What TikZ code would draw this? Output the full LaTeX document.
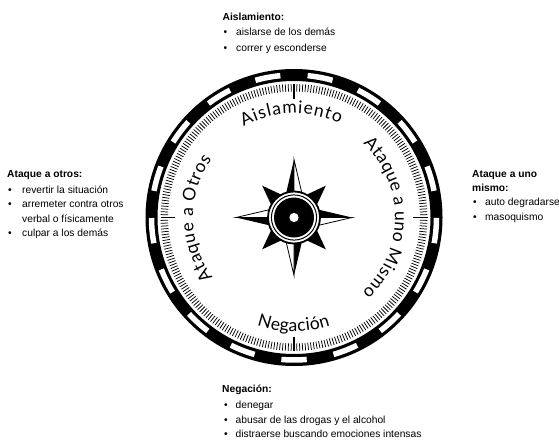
\documentclass[tikz,border=0pt]{standalone}
\usepackage{fontspec}
\setmainfont{Liberation Sans}
\newfontfamily\rosefont{Lato}
\usetikzlibrary{decorations.text}
\tikzset{
  lbl/.style={anchor=base west, inner sep=0pt, font=\fontsize{10.25}{12}\selectfont},
  hd/.style={lbl, font=\fontsize{10.25}{12}\selectfont\bfseries},
  rosetext/.style={decorate, decoration={text along path, text align={fit to path},
     text={|\rosefont\fontsize{17.5}{20}\selectfont|#1}}}
}
\begin{document}
\begin{tikzpicture}[x=1pt,y=1pt]
\useasboundingbox (0,0) rectangle (559,-439);

% ---------- compass ----------
\begin{scope}[shift={(294,-217.5)}]
  % outer band
  \draw[line width=12pt] (0,0) circle (142.5);
  \foreach \i in {0,...,16}{
    \pgfmathsetmacro\sa{95.5+\i*360/17}
    \pgfmathsetmacro\ea{\sa+10.2}
    \draw[white, line width=5.5pt] (\sa:142.5) arc[start angle=\sa, end angle=\ea, radius=142.5];
  }
  % ticks
  \foreach \a in {0,1.25,...,358.8}{
    \draw[line width=0.75pt] (\a:126) -- (\a:133.5);
  }
  \foreach \a in {0,90,180,270}{
    \draw[line width=1.2pt] (\a:119) -- (\a:133.5);
  }
  % diagonal points
  \foreach \d in {45,135,225,315}{
    \fill ({\d}:45) -- ({\d-30}:20) -- ({\d+30}:20) -- cycle;
  }
  % long points
  \foreach \r in {0,90,180,270}{
    \begin{scope}[rotate=\r]
      \fill (0,0) -- (0,58) -- (-11,11) -- cycle;
      \filldraw[fill=white, draw=black, line width=0.8pt, line join=miter]
        (0,0) -- (0,58) -- (11,11) -- cycle;
    \end{scope}
  }
  % central rings
  \filldraw[fill=white, draw=black, line width=1.8pt] (0,0) circle (26);
  \draw[line width=1pt] (0,0) circle (22.6);
  \fill (0,0) circle (20);
  \fill[white] (0,0) circle (4.6);

  % curved labels
  \path[rosetext={Aislamiento}] (119:104) arc[start angle=119, end angle=64, radius=104];
  \path[rosetext={Negación}] (251:114) arc[start angle=251, end angle=288.5, radius=114];
  \path[rosetext={Ataque a Otros}] (216.5:101) arc[start angle=216.5, end angle=144.5, radius=101];
  \path[rosetext={Ataque a uno Mismo}] (47:101) arc[start angle=47, end angle=-47.5, radius=101];
\end{scope}

% ---------- text blocks ----------
% top
\node[hd] (th) at (222.5,-20) {Aislamiento:};
\node[lbl] (tb1) at (223.5,-35.5) {•};
\node[lbl] (tt1) at (236,-35.5) {aislarse de los demás};
\node[lbl] (tb2) at (223.5,-51) {•};
\node[lbl] (tt2) at (236,-51) {correr y esconderse};

% left
\node[hd] (lh) at (7,-177.5) {Ataque a otros:};
\node[lbl] (lb1) at (8,-193) {•};
\node[lbl] (lt1) at (22,-193) {revertir la situación};
\node[lbl] (lb2) at (8,-207.7) {•};
\node[lbl] (lt2) at (22,-207.7) {arremeter contra otros};
\node[lbl] (lt3) at (22,-222) {verbal o físicamente};
\node[lbl] (lb4) at (8,-236.5) {•};
\node[lbl] (lt4) at (22,-236.5) {culpar a los demás};

% right
\node[hd] (rh1) at (472,-177) {Ataque a uno};
\node[hd] (rh2) at (472,-191) {mismo:};
\node[lbl] (rb1) at (473,-205.7) {•};
\node[lbl] (rt1) at (485,-205.7) {auto degradarse};
\node[lbl] (rb2) at (473,-220) {•};
\node[lbl] (rt2) at (485,-220) {masoquismo};

% bottom
\node[hd] (bh) at (222,-392) {Negación:};
\node[lbl] (bb1) at (224,-408) {•};
\node[lbl] (bt1) at (235.5,-408) {denegar};
\node[lbl] (bb2) at (224,-423) {•};
\node[lbl] (bt2) at (235.5,-423) {abusar de las drogas y el alcohol};
\node[lbl] (bb3) at (224,-437.5) {•};
\node[lbl] (bt3) at (235.5,-437.5) {distraerse buscando emociones intensas};
\end{tikzpicture}
\end{document}
